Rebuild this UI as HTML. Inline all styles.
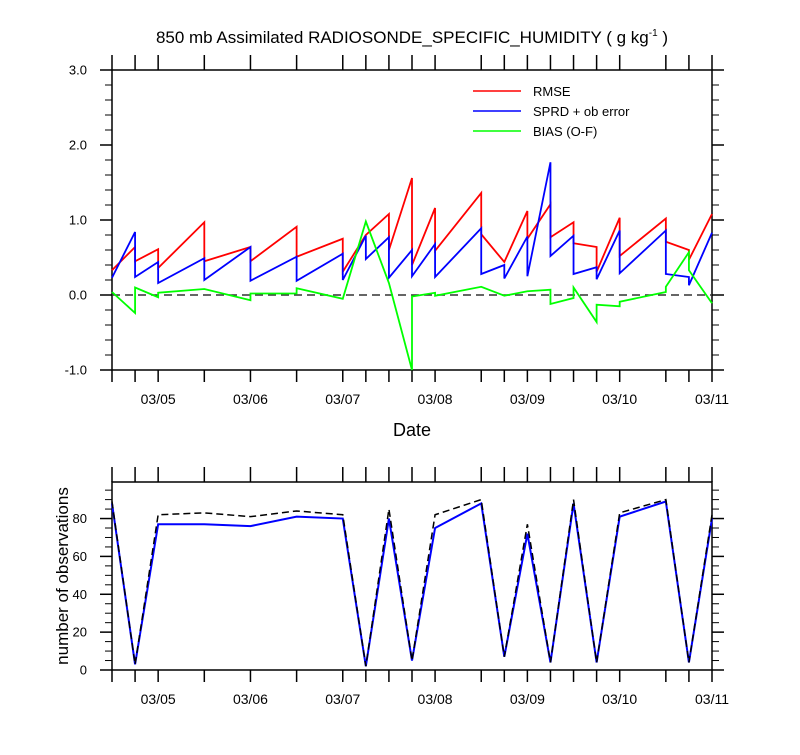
<!DOCTYPE html>
<html><head><meta charset="utf-8"><style>
body{margin:0;background:#fff}
svg text{font-family:"Liberation Sans",Arial,sans-serif;fill:#000}
</style></head><body>
<svg id="chart" width="800" height="750" xmlns="http://www.w3.org/2000/svg">
<text x="412" y="43" font-size="17" text-anchor="middle">850 mb Assimilated RADIOSONDE_SPECIFIC_HUMIDITY ( g kg<tspan font-size="10" dy="-7">-1</tspan><tspan dy="7"> )</tspan></text>
<g id="topPanel"></g>
<g id="botPanel"></g>
<text x="412" y="436" font-size="18" text-anchor="middle">Date</text>
<text transform="translate(68,576) rotate(-90)" font-size="17" text-anchor="middle">number of observations</text>
<g>
<line x1="473" y1="91" x2="521" y2="91" stroke="#f00" stroke-width="1.6"/>
<text x="533" y="96" font-size="13">RMSE</text>
<line x1="473" y1="111" x2="521" y2="111" stroke="#00f" stroke-width="1.6"/>
<text x="533" y="116" font-size="13">SPRD + ob error</text>
<line x1="473" y1="131" x2="521" y2="131" stroke="#0f0" stroke-width="1.6"/>
<text x="533" y="136" font-size="13">BIAS (O-F)</text>
</g>
</svg>
<script>
// times in days (day-of-month, fractional)
const times=[4.5,4.75,5,5.5,6,6.5,7,7.25,7.5,7.75,8,8.5,8.75,9,9.25,9.5,9.75,10,10.5,10.75,11];
const dayLabels=["03/05","03/06","03/07","03/08","03/09","03/10","03/11"];
const dayValues=[5,6,7,8,9,10,11];
const yTicksTop=[3.0,2.0,1.0,0.0,-1.0];
const yTicksBot=[0,20,40,60,80];
// per interval start/end values
const rmseStart=[0.33,0.45,0.36,0.45,0.45,0.51,0.31,0.8,0.6,0.40,0.59,0.81,0.44,0.75,0.77,0.69,0.31,0.52,0.71,0.47];
const rmseEnd=[0.64,0.61,0.97,0.64,0.91,0.75,0.8,1.08,1.56,1.16,1.36,0.44,1.12,1.21,0.97,0.64,1.03,1.02,0.6,1.08];
const sprdStart=[0.23,0.24,0.16,0.2,0.19,0.19,0.2,0.48,0.23,0.25,0.24,0.28,0.22,0.25,0.52,0.28,0.21,0.29,0.28,0.13];
const sprdEnd=[0.84,0.44,0.49,0.64,0.51,0.55,0.79,0.77,0.6,0.68,0.89,0.4,0.78,1.77,0.79,0.37,0.86,0.86,0.24,0.83];
const biasStart=[0.04,0.1,0.03,0.08,0.02,0.09,-0.05,0.98,0.16,-0.02,-0.01,0.11,-0.01,0.05,-0.12,0.1,-0.13,-0.09,0.11,0.33];
const biasEnd=[-0.24,-0.03,0.08,-0.07,0.02,-0.05,0.98,0.16,-1.0,0.03,0.11,-0.01,0.05,0.07,-0.04,-0.36,-0.15,0.04,0.57,-0.11];
const obsUsed=[88,3,77,77,76,81,80,2,80,5,75,88,7,72,4,88,4,81,89,4,80];
const obsTotal=[89,3,82,83,81,84,82,2,85,5,82,90,7,77,4,90,4,83,90,4,82];

const NS="http://www.w3.org/2000/svg";
const X0=112,X1=712;
const xs=t=>X0+(t-4.5)/(11-4.5)*(X1-X0);
const yTop=v=>295-v*75;
const yBot=v=>670-v*(188/99.3);
function mk(parent,tag,attrs){const e=document.createElementNS(NS,tag);for(const k in attrs)e.setAttribute(k,attrs[k]);parent.appendChild(e);return e;}
function panel(g,top,bot,name){
  const r=mk(g,'rect',{x:X0,y:top,width:X1-X0,height:bot-top,fill:'none',stroke:'#000','stroke-width':1.5});
  
  
  times.forEach(t=>{
    const a=mk(g,'line',{x1:xs(t),x2:xs(t),y1:top-15,y2:top,stroke:'#000','stroke-width':1.5});
    
    
    const b=mk(g,'line',{x1:xs(t),x2:xs(t),y1:bot,y2:bot+12,stroke:'#000','stroke-width':1.5});
    
    
  });
  dayValues.forEach((d,i)=>{
    const tx=mk(g,'text',{x:xs(d),y:bot+34,'font-size':14,'text-anchor':'middle'});
    tx.textContent=dayLabels[i];
    
    
  });
}
function yaxis(g,lo,hi,step,minor,yf,ticks,fmt){
  for(let v=lo;v<=hi+1e-9;v+=minor){
    const major=Math.abs(Math.round(v/step)*step-v)<1e-6;
    const len=major?12:7;
    const l=mk(g,'line',{x1:X0-len,x2:X0,y1:yf(v),y2:yf(v),stroke:'#000','stroke-width':major?1.5:1});
    
    
    const r=mk(g,'line',{x1:X1,x2:X1+len,y1:yf(v),y2:yf(v),stroke:'#000','stroke-width':major?1.5:1});
    
    
  }
  ticks.forEach(v=>{
    const t=mk(g,'text',{x:X0-25,y:yf(v)+4.5,'font-size':13,'text-anchor':'end'});
    t.textContent=fmt(v);
    
    
  });
}
const gTop=document.getElementById('topPanel');
const gBot=document.getElementById('botPanel');
panel(gTop,70,370,'top-panel');
panel(gBot,482,670,'bottom-panel');
yaxis(gTop,-1,3,1,0.2,yTop,yTicksTop,v=>v.toFixed(1));
yaxis(gBot,0,95,20,5,yBot,yTicksBot,v=>String(v));
const zl=mk(gTop,'line',{x1:X0,x2:X1,y1:yTop(0),y2:yTop(0),stroke:'#333','stroke-width':1.5,'stroke-dasharray':'8,5'});


function saw(st,en,color,name){
  let d='';
  for(let i=0;i<st.length;i++){
    d+=(i===0?'M':'L')+xs(times[i])+','+yTop(st[i])+' L'+xs(times[i+1])+','+yTop(en[i])+' ';
  }
  const p=mk(gTop,'path',{d:d,fill:'none',stroke:color,'stroke-width':1.8,'stroke-linejoin':'miter'});
  
  
}
saw(rmseStart,rmseEnd,'#f00','rmse-line');
saw(sprdStart,sprdEnd,'#00f','sprd-line');
saw(biasStart,biasEnd,'#0f0','bias-line');
function line(vals,color,dash,name,w){
  const d=vals.map((v,i)=>(i?'L':'M')+xs(times[i])+','+yBot(v)).join(' ');
  const p=mk(gBot,'path',{d:d,fill:'none',stroke:color,'stroke-width':w});
  if(dash)p.setAttribute('stroke-dasharray',dash);
  
  
}
line(obsUsed,'#00f',null,'obs-used-line',2);
line(obsTotal,'#000','7,4','obs-total-line',1.5);
</script>
</body></html>
